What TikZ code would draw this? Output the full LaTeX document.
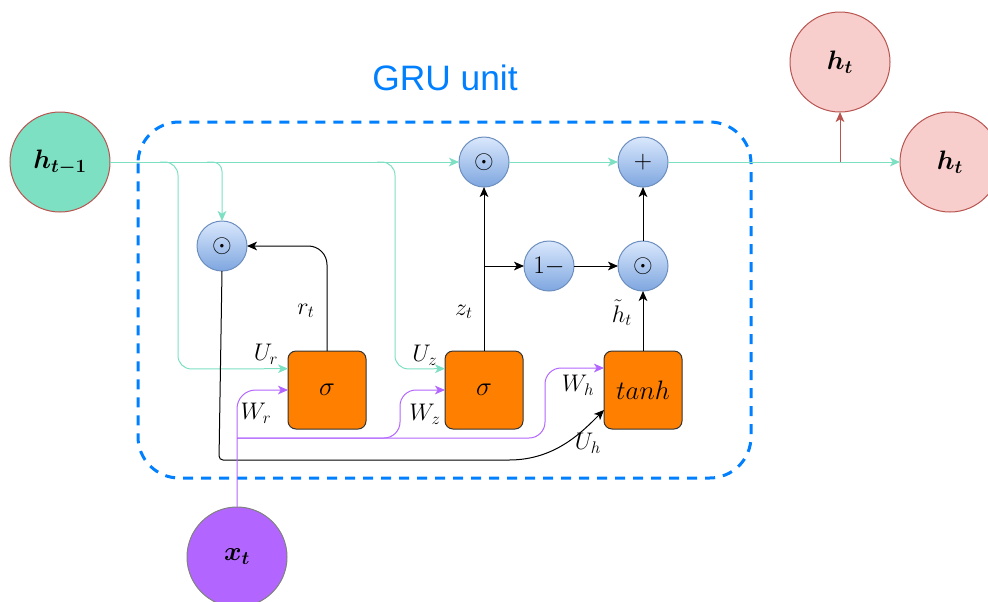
\RequirePackage{fix-cm}
\documentclass[tikz,border=0pt]{standalone}
\usepackage{fontspec}
\usepackage{amsmath,bm}
\usetikzlibrary{arrows.meta}
\newfontfamily\grufont{Liberation Sans}
\definecolor{mintline}{HTML}{7EE0C3}
\definecolor{redline}{HTML}{B85450}
\definecolor{pinkfill}{HTML}{F8CECC}
\definecolor{xviolet}{HTML}{B266FF}
\definecolor{opstroke}{HTML}{6C8EBF}
\definecolor{optop}{HTML}{DAE8FC}
\definecolor{opbot}{HTML}{7EA6E0}
\definecolor{gateorange}{HTML}{FF8000}
\definecolor{unitblue}{HTML}{007FFF}
\tikzset{
  state/.style={circle,minimum size=75pt,inner sep=0pt,outer sep=0pt,font=\fontsize{20}{24}\selectfont},
  op/.style={circle,minimum size=37.5pt,inner sep=0pt,outer sep=0pt,draw=opstroke,top color=optop,bottom color=opbot,font=\fontsize{19}{22}\selectfont},
  gate/.style={rectangle,rounded corners=6pt,minimum size=58.5pt,inner sep=0pt,outer sep=0pt,draw=black!80,fill=gateorange,font=\fontsize{20}{24}\selectfont},
  lbl/.style={inner sep=0pt,font=\fontsize{18}{21}\selectfont},
  arr/.style={-{Stealth[length=7.5pt,width=6.5pt,inset=2pt]}},
}
\begin{document}
\begin{tikzpicture}[x=0.75pt,y=-0.75pt,line width=0.75pt]
  \useasboundingbox (0,0) rectangle (988,601);
  % GRU frame
  \draw[unitblue,line width=2.25pt,dash pattern=on 7.5pt off 6pt,rounded corners=31pt]
    (138,122) rectangle (751,478);
  \node[unitblue,font=\grufont\fontsize{26.5}{30}\selectfont] (title) at (445,78) {GRU unit};
  % states
  \node[state,fill=mintline,draw=redline] (hprev) at (60,162) {$\bm{h_{t-1}}$};
  \node[state,fill=xviolet,draw=gray] (xt) at (237,557) {$\bm{x_t}$};
  \node[state,fill=pinkfill,draw=redline] (hup) at (840,62) {$\bm{h_t}$};
  \node[state,fill=pinkfill,draw=redline] (hout) at (950,162) {$\bm{h_t}$};
  % operations
  \node[op] (resetmul) at (222,246) {$\odot$};
  \node[op] (keepmul) at (484,162) {$\odot$};
  \node[op] (sum) at (643,162) {$+$};
  \node[op] (oneminus) at (549,266) {$1-$};
  \node[op] (candmul) at (643,266) {$\odot$};
  % gates
  \node[gate] (rgate) at (327,390) {$\sigma$};
  \node[gate] (zgate) at (484,390) {$\sigma$};
  \node[gate] (hgate) at (643,390) {$tanh$};
  % branch points
  \coordinate (ur0) at (160,162);
  \coordinate (rm0) at (207,162);
  \coordinate (uz0) at (377,162);
  \coordinate (split) at (840,162);
  \coordinate (zsplit) at (484,266);
  \coordinate (xsplit) at (237,438);
  \coordinate (uh0) at (219,460);
  % labels
  \node[lbl] (urlbl) at (266,354) {$U_r$};
  \node[lbl] (uzlbl) at (425,355) {$U_z$};
  \node[lbl] (wrlbl) at (256,413) {$W_r$};
  \node[lbl] (wzlbl) at (425,414) {$W_z$};
  \node[lbl] (whlbl) at (578,385) {$W_h$};
  \node[lbl] (uhlbl) at (588,443) {$U_h$};
  \node[lbl] (rtlbl) at (306,311) {$r_t$};
  \node[lbl] (ztlbl) at (464,312) {$z_t$};
  \node[lbl] (htlbl) at (622,313) {$\tilde{h}_t$};
  % hidden state path
  \begin{scope}[mintline,arr]
    \draw (hprev) -- (keepmul);
    \draw (keepmul) -- (sum);
    \draw (sum) -- (hout);
    \draw[rounded corners=10pt] (ur0) -| (178,369) -- ([yshift=16pt]rgate.west);
    \draw[rounded corners=7pt] (rm0) -| (resetmul.north);
    \draw[rounded corners=10pt] (uz0) -| (395,369) -- ([yshift=16pt]zgate.west);
  \end{scope}
  \draw[redline,arr] (split) -- (hup);
  % gate outputs
  \begin{scope}[arr]
    \draw[rounded corners=14pt] (rgate.north) |- (resetmul.east);
    \draw (zgate.north) -- (keepmul.south);
    \draw (zsplit) -- (oneminus);
    \draw (oneminus) -- (candmul);
    \draw (hgate) -- (candmul);
    \draw (candmul) -- (sum);
    \draw[rounded corners=3pt] (resetmul.south) -- (uh0) -- (505,460)
      .. controls (555,460) and (582,432) .. ([yshift=-15pt]hgate.west);
  \end{scope}
  % input paths
  \begin{scope}[xviolet,arr]
    \draw[rounded corners=14pt] (xt.north) |- (rgate.west);
    \draw[rounded corners=12pt] (xsplit) -| (400,390) -- (zgate.west);
    \draw[rounded corners=12pt] (xsplit) -| (545,368) -- ([yshift=16.5pt]hgate.west);
  \end{scope}
\end{tikzpicture}
\end{document}
